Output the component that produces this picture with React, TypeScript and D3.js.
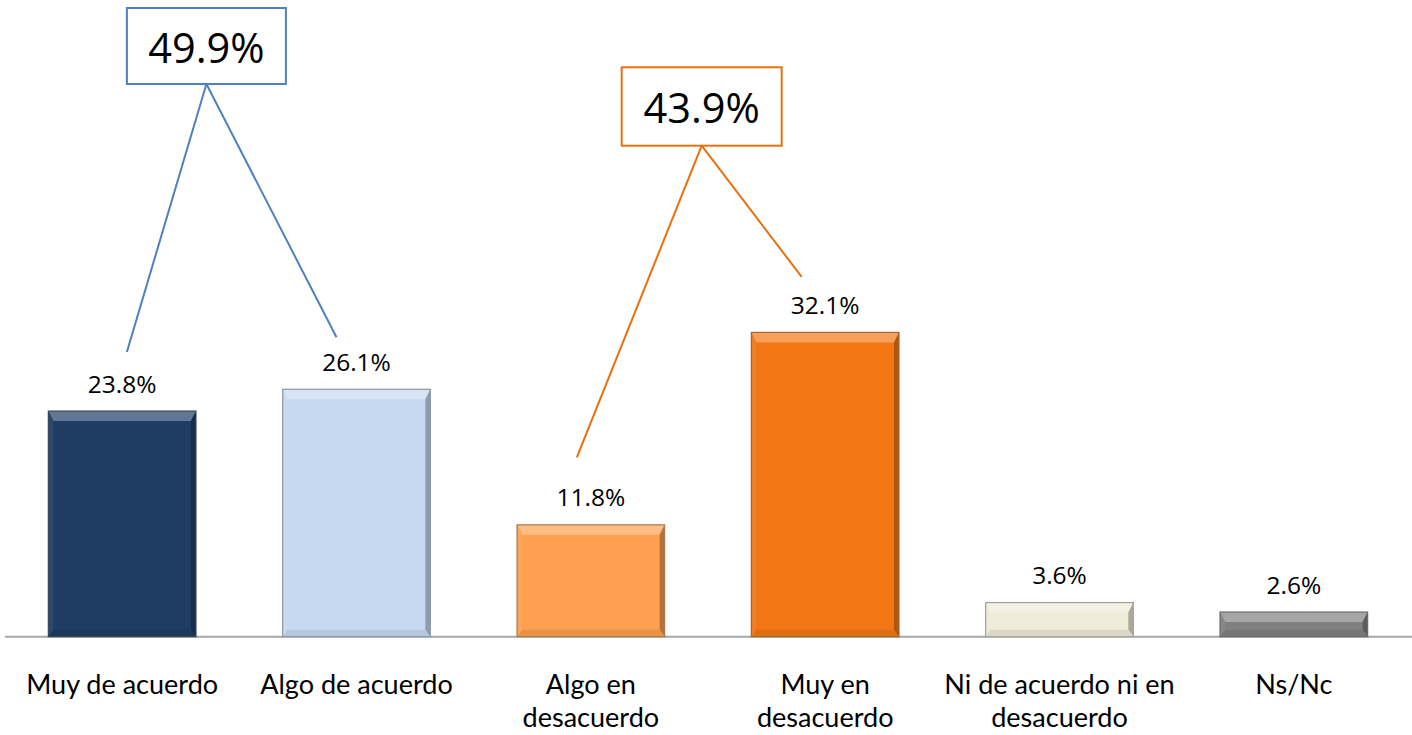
import React from "react";
import * as d3 from "d3";

const categories: string[][] = [
  ["Muy de acuerdo"],
  ["Algo de acuerdo"],
  ["Algo en", "desacuerdo"],
  ["Muy en", "desacuerdo"],
  ["Ni de acuerdo ni en", "desacuerdo"],
  ["Ns/Nc"],
];
const values: number[] = [23.8, 26.1, 11.8, 32.1, 3.6, 2.6];
const barColors: string[] = ["#1F3D64", "#C6D9F1", "#FDA04F", "#F27613", "#EEEBD8", "#808080"];

const totalValues: number[] = [49.9, 43.9];
const totalGroups: number[][] = [[0, 1], [2, 3]];
const totalColors: string[] = ["#4F81BD", "#E8700F"];

const W = 1412;
const H = 735;
const CAT_FONT = "Lato, sans-serif";
const NUM_FONT = "'Open Sans', sans-serif";

function Bar({ x, y, w, h, color }: { x: number; y: number; w: number; h: number; color: string }) {
  const light = d3.interpolateRgb(color, "#ffffff")(0.3);
  const lighter = d3.interpolateRgb(color, "#ffffff")(0.06);
  const dark = d3.interpolateRgb(color, "#000000")(0.28);
  const darkish = d3.interpolateRgb(color, "#000000")(0.08);
  const border = d3.interpolateRgb(color, "#555555")(0.5);
  const bt = Math.min(10, h / 2.5);
  const bs = 5;
  const bb = Math.min(7, h / 3);
  return (
    <g>
      <rect x={x} y={y} width={w} height={h} fill={color} />
      <polygon points={`${x},${y} ${x + w},${y} ${x + w - bs},${y + bt} ${x + bs},${y + bt}`} fill={light} />
      <polygon points={`${x},${y} ${x + bs},${y + bt} ${x + bs},${y + h - bb} ${x},${y + h}`} fill={lighter} />
      <polygon points={`${x + w},${y} ${x + w - bs},${y + bt} ${x + w - bs},${y + h - bb} ${x + w},${y + h}`} fill={dark} />
      <polygon points={`${x},${y + h} ${x + bs},${y + h - bb} ${x + w - bs},${y + h - bb} ${x + w},${y + h}`} fill={darkish} />
      <rect x={x} y={y} width={w} height={h} fill="none" stroke={border} strokeWidth={1.2} />
    </g>
  );
}

export default function App() {
  const baseY = 636.7;
  const x = d3
    .scaleBand<number>()
    .domain(values.map((_, i) => i))
    .range([5, 1411])
    .paddingInner(0.37)
    .paddingOuter(0.185);
  const y = d3.scaleLinear().domain([0, 60]).range([baseY, baseY - 568.8]);

  const bw = x.bandwidth();
  const cx = (i: number) => (x(i) as number) + bw / 2;

  // callout geometry (annotation placement)
  const callouts = [
    { box: { cx: 206.4, y: 8, w: 159, h: 76 }, anchors: [{ dx: 4.7, dy: -59 }, { dx: -20, dy: -52 }] },
    { box: { cx: 701.7, y: 67.3, w: 160, h: 78.4 }, anchors: [{ dx: -14, dy: -67.5 }, { dx: -23.5, dy: -55.5 }] },
  ];

  return (
    <svg width={W} height={H} style={{ position: "absolute", left: 0, top: 0, background: "#fff" }}>
      <rect x={0} y={0} width={W} height={H} fill="#fff" />
      <line x1={5} x2={1412} y1={baseY} y2={baseY} stroke="#A6A6A6" strokeWidth={2} />

      {values.map((v, i) => (
        <Bar key={i} x={x(i) as number} y={y(v)} w={bw} h={baseY - y(v)} color={barColors[i]} />
      ))}

      {values.map((v, i) => (
        <text key={"v" + i} x={cx(i)} y={y(v) - 18.5} textAnchor="middle" fontSize={24.5} fill="#000" fontFamily={NUM_FONT}>
          {v.toFixed(1)}%
        </text>
      ))}

      {categories.map((lines, i) => (
        <text
          key={"c" + i}
          transform={`translate(${cx(i)},0) scale(1.04,1)`}
          textAnchor="middle"
          fontSize={26}
          fill="#000"
          fontFamily={CAT_FONT}
        >
          {lines.map((ln, j) => (
            <tspan key={j} x={0} y={694 + j * 33.5}>
              {ln}
            </tspan>
          ))}
        </text>
      ))}

      {totalValues.map((t, k) => {
        const co = callouts[k];
        const b = co.box;
        const apexY = b.y + b.h;
        return (
          <g key={"t" + k}>
            {totalGroups[k].map((bi, j) => (
              <line
                key={j}
                x1={b.cx}
                y1={apexY}
                x2={cx(bi) + co.anchors[j].dx}
                y2={y(values[bi]) + co.anchors[j].dy}
                stroke={totalColors[k]}
                strokeWidth={2}
              />
            ))}
            <rect x={b.cx - b.w / 2} y={b.y} width={b.w} height={b.h} fill="#fff" stroke={totalColors[k]} strokeWidth={2} />
            <text x={b.cx} y={b.y + b.h / 2 + 16.5} textAnchor="middle" fontSize={41.5} fill="#000" fontFamily={NUM_FONT}>
              {t.toFixed(1)}%
            </text>
          </g>
        );
      })}
    </svg>
  );
}
